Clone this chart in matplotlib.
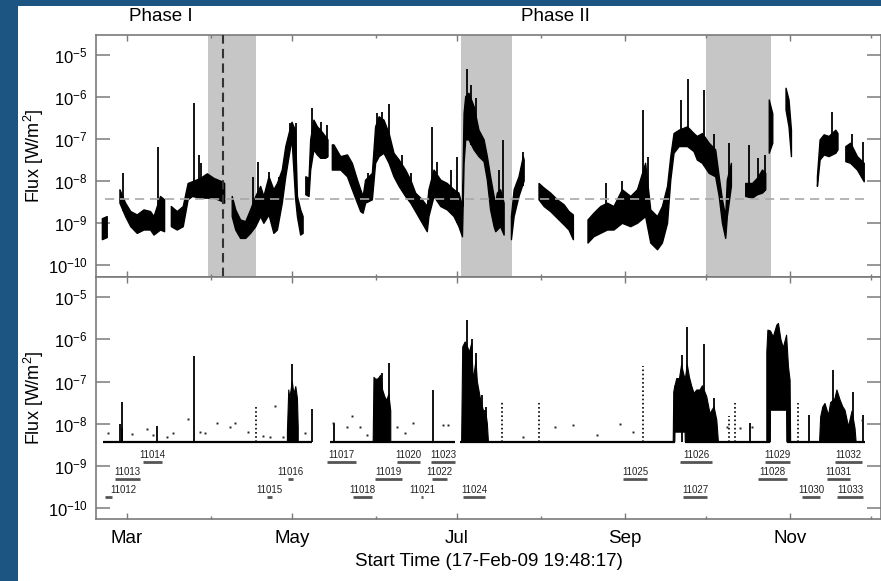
import numpy as np
import matplotlib
matplotlib.use('Agg')
import matplotlib.pyplot as plt
import matplotlib.transforms as mtransforms
from matplotlib.patches import Rectangle
from matplotlib.ticker import FixedLocator, NullLocator, LogFormatterMathtext

plt.rcParams['font.family'] = ['Liberation Sans', 'DejaVu Sans']
plt.rcParams['mathtext.fontset'] = 'custom'
plt.rcParams['mathtext.rm'] = 'Liberation Sans'
plt.rcParams['mathtext.it'] = 'Liberation Sans:italic'
plt.rcParams['mathtext.bf'] = 'Liberation Sans:bold'

# Times are day-of-year 2009 (Mar 1 = 60), fluxes are log10 of W/m^2.
# None marks a data gap.

# ---- top panel: envelope of the full light curve
top_day = [50.9, 52.7, None,
           57.4, 59.5, 61.4, 63.8, 66.3, 68.7, 70.0, 72.4, 73.9, None,
           76.4, 78.6, 80.8, 82.6, 84.2, 87.2, 89.7, 92.2, 95.2, 96.1, None,
           98.9, 100.2, 102.0, 103.9, 105.7, 107.6, 109.4, 110.6, 112.5, 114.3,
           115.6, 117.4, 118.7, 119.9, 121.0, 122.3, 123.0, 124.2, 125.1, None,
           126.1, 127.3, 127.9, 129.1, 130.4, 131.6, 133.4, 134.3, None,
           135.9, 136.5, 139.0, 141.5, 143.3, 145.2, 146.4, 147.3, 148.2, 150.7,
           151.9, 153.2, 155.0, 156.9, 158.7, 160.6, 163.0, 164.9, 166.7, 169.2,
           171.0, 171.6, 173.5, 176.0, 178.4, 180.9, 182.7, 184.0, 184.6, 185.2,
           186.4, 188.3, 190.1, 192.0, 193.2, 194.4, 195.7, 196.3, 196.9, 198.1,
           199.4, None,
           202.1, 203.1, 204.9, 206.5, 206.8, None,
           212.3, 214.2, 216.6, 219.1, 221.6, 223.4, 225.0, None,
           230.4, 232.6, 235.1, 237.6, 240.0, 243.1, 246.2, 248.7, 251.7, 253.6,
           256.1, 257.9, 259.8, 261.0, 262.2, 264.1, 267.2, 269.6, 270.8, 272.7,
           275.2, 277.6, 278.9, 280.1, 281.3, 281.9, 283.4, None,
           288.7, 291.2, 293.0, 294.9, 296.1, None,
           297.4, 298.7, None,
           303.6, 304.7, 305.6, None,
           315.2, 316.2, 317.7, 319.5, 322.0, 322.8, None,
           325.7, 327.5, 330.0, 332.5]
top_lo = [-9.40, -9.35, None,
          -8.53, -8.85, -9.09, -9.25, -9.17, -9.17, -9.29, -9.17, -9.21, None,
          -9.09, -9.17, -9.09, -8.45, -8.37, -8.41, -8.41, -8.41, -8.49, -8.53, None,
          -8.85, -9.17, -9.37, -9.37, -9.25, -9.09, -8.85, -9.01, -8.81, -9.25,
          -9.17, -8.53, -7.90, -7.42, -7.00, -8.40, -8.85, -9.29, -9.25, None,
          -8.33, -8.37, -7.74, -7.26, -7.38, -7.46, -7.46, -7.42, None,
          -7.74, -7.74, -7.74, -7.90, -8.21, -8.53, -8.73, -8.77, -8.53, -8.45,
          -7.58, -7.42, -7.34, -7.58, -7.90, -8.13, -8.37, -8.53, -8.73, -9.01,
          -9.21, -8.85, -8.37, -8.61, -8.69, -8.85, -9.09, -9.33, -7.58, -7.02,
          -7.02, -7.26, -7.42, -7.54, -7.98, -8.69, -9.09, -9.21, -9.17, -9.09,
          -9.29, None,
          -9.40, -8.85, -8.37, -8.06, -8.00, None,
          -8.45, -8.61, -8.73, -8.89, -9.05, -9.17, -9.40, None,
          -9.48, -9.33, -9.25, -9.17, -9.17, -9.01, -9.09, -9.01, -8.85, -9.48,
          -9.64, -9.48, -9.01, -7.98, -7.34, -7.18, -7.18, -7.30, -7.50, -7.58,
          -7.82, -7.90, -8.37, -9.01, -9.37, -8.85, -8.13, None,
          -8.37, -8.41, -8.33, -8.29, -8.21, None,
          -7.34, -7.10, None,
          -6.31, -6.71, -7.42, None,
          -8.13, -7.50, -7.38, -7.42, -7.34, -7.26, None,
          -7.54, -7.58, -7.74, -8.02]
top_hi = [-8.90, -8.85, None,
          -8.21, -8.53, -8.73, -8.81, -8.69, -8.73, -8.85, -8.37, -8.45, None,
          -8.61, -8.73, -8.61, -8.06, -8.02, -7.94, -7.83, -7.94, -8.02, -8.06, None,
          -8.37, -8.69, -8.93, -8.97, -8.69, -8.37, -8.13, -8.37, -7.90, -8.21,
          -8.06, -7.74, -7.18, -6.87, -6.60, -6.80, -8.37, -8.69, -8.85, None,
          -7.90, -7.94, -7.02, -6.55, -6.71, -6.79, -6.94, -7.02, None,
          -7.14, -7.14, -7.42, -7.38, -7.58, -7.98, -8.21, -8.37, -7.98, -7.82,
          -6.71, -6.47, -6.55, -6.87, -7.34, -7.50, -7.74, -7.98, -8.29, -8.45,
          -8.61, -8.21, -7.74, -7.98, -8.06, -8.21, -8.29, -8.61, -6.39, -5.99,
          -5.91, -6.23, -6.79, -7.02, -7.42, -7.90, -8.37, -8.53, -8.29, -8.21,
          -8.53, None,
          -8.85, -8.21, -7.90, -7.42, -7.50, None,
          -8.06, -8.17, -8.29, -8.45, -8.57, -8.73, -8.81, None,
          -8.93, -8.77, -8.61, -8.53, -8.61, -8.21, -8.37, -8.21, -7.58, -8.69,
          -8.85, -8.61, -8.13, -7.42, -6.87, -6.79, -6.71, -6.87, -6.94, -6.87,
          -7.10, -7.26, -7.90, -8.45, -8.85, -7.98, -7.58, None,
          -8.06, -8.06, -7.94, -7.74, -7.82, None,
          -6.07, -6.40, None,
          -5.79, -6.07, -6.79, None,
          -7.90, -7.02, -6.90, -6.94, -6.79, -6.87, None,
          -7.18, -7.10, -7.42, -7.58]

top_spike_day = [58.6, 71.5, 84.8, 86.6, 87.5, 106.7, 108.4, 112.5, 116.3, 120.3,
                 122.3, 128.5, 131.6, 133.8, 149.1, 152.5, 154.4, 156.9, 161.8, 164.9,
                 172.9, 174.7, 179.7, 182.1, 185.8, 187.3, 188.9, 197.5, 198.8, 206.2,
                 237.0, 243.1, 250.8, 252.4, 264.9, 267.4, 273.3, 277.0, 282.6, 290.0,
                 293.3, 295.7, 320.7, 328.1, 331.9]
top_spike_peak = [-7.82, -7.18, -6.15, -7.38, -7.58, -7.90, -7.54, -7.78, -7.90, -6.63,
                  -6.63, -6.27, -6.59, -6.67, -7.82, -6.39, -6.35, -6.17, -7.38, -7.82,
                  -6.71, -7.54, -7.74, -7.42, -5.32, -5.71, -6.03, -7.74, -7.02, -7.30,
                  -8.06, -8.00, -6.31, -7.42, -6.07, -5.56, -5.83, -6.87, -7.10, -7.14,
                  -7.46, -7.38, -6.35, -6.87, -7.06]

top_threshold = -8.43
top_threshold_span = [52.0, 332.5]
shade_start = [89.9, 183.4, 273.9]
shade_end = [107.7, 202.3, 298.2]
dashed_day = 95.6

# ---- bottom panel
base_level = -8.43
base_start = [51.2, 135.0, 183.1, 266.3, 303.9]
base_end = [128.5, 181.4, 262.5, 297.8, 332.8]

cl_day = [119.3, 119.8, 120.2, 121.1, 121.7, 122.4, 123.0, 123.3, None,
          151.0, 151.3, 152.0, 152.9, 153.8, 154.5, 155.3, 156.0, 156.8, 157.5, None,
          183.7, 184.1, 185.0, 186.0, 186.6, 187.4, 188.0, 189.0, 189.5, 190.5,
          191.7, 192.6, 193.2, 193.6, None,
          261.9, 262.1, 262.5, 262.55, 263.2, 264.2, 265.0, 265.7, 266.3, 266.35,
          267.1, 267.9, 268.7, 269.6, 270.6, 271.8, 272.7, 274.3, 275.5, 277.0,
          278.0, 278.6, None,
          296.5, 296.9, 297.8, 297.85, 298.9, 300.2, 300.8, 301.7, 302.6, 303.8,
          303.9, 304.5, 305.1, 305.3, None,
          316.0, 316.4, 317.2, 318.0, 319.3, 320.1, 321.7, 322.4, 323.6, 324.6,
          325.4, 326.7, 328.0, 329.1, 329.5]
cl_lo = [-8.43, -8.43, -8.43, -8.43, -8.43, -8.43, -8.43, -8.43, None,
         -8.43, -8.43, -8.43, -8.43, -8.43, -8.43, -8.43, -8.43, -8.43, -8.43, None,
         -8.43, -8.43, -8.43, -8.43, -8.43, -8.43, -8.43, -8.43, -8.43, -8.43,
         -8.43, -8.43, -8.43, -8.43, None,
         -8.43, -8.43, -8.43, -8.20, -8.20, -8.20, -8.20, -8.20, -8.20, -8.43,
         -8.43, -8.43, -8.43, -8.43, -8.43, -8.43, -8.43, -8.43, -8.43, -8.43,
         -8.43, -8.43, None,
         -8.43, -8.43, -8.43, -7.68, -7.68, -7.68, -7.68, -7.68, -7.68, -7.68,
         -8.43, -8.43, -8.43, -8.43, None,
         -8.43, -8.43, -8.43, -8.43, -8.43, -8.43, -8.43, -8.43, -8.43, -8.43,
         -8.43, -8.43, -8.43, -8.43, -8.43]
cl_hi = [-8.20, -7.20, -7.40, -7.00, -7.30, -7.12, -7.40, -8.10, None,
         -8.43, -6.90, -6.95, -6.93, -6.85, -7.20, -7.36, -7.45, -7.30, -7.70, None,
         -8.43, -6.18, -6.06, -6.20, -6.30, -6.10, -6.97, -6.50, -7.00, -7.36,
         -7.68, -7.70, -8.00, -8.43, None,
         -8.43, -7.25, -7.10, -7.10, -6.93, -6.93, -6.60, -6.80, -6.95, -6.95,
         -6.60, -6.90, -7.10, -7.28, -7.20, -7.20, -7.10, -7.36, -7.76, -7.60,
         -7.91, -8.43, None,
         -6.30, -5.78, -5.80, -5.80, -5.94, -5.66, -5.62, -6.00, -6.20, -5.90,
         -6.00, -6.65, -6.97, -8.43, None,
         -8.43, -7.84, -7.60, -7.52, -7.80, -7.50, -7.40, -7.20, -7.44, -7.60,
         -7.68, -8.07, -7.70, -8.11, -8.43]

bot_spike_day = [57.6, 58.0, 58.3, 71.2, 84.9, 121.1, 128.4, 136.6, 154.1, 157.0,
                 173.0, 185.8, 187.4, 189.0, 191.1, 192.6, 265.0, 267.1, 273.4, 277.0,
                 290.3, 312.2, 320.9, 328.3, 332.2]
bot_spike_peak = [-8.00, -7.48, -8.10, -8.05, -6.40, -6.59, -7.64, -7.99, -6.79, -6.55,
                  -7.20, -5.53, -5.98, -6.33, -7.32, -7.60, -6.37, -5.70, -6.12, -7.40,
                  -7.99, -7.80, -6.73, -7.24, -7.80]
dotcol_day = [107.7, 198.5, 212.4, 250.9, 282.7, 284.8, 308.2]
dotcol_peak = [-7.60, -7.48, -7.50, -6.64, -7.82, -7.52, -7.52]

dot_day = [53.1, 61.7, 67.3, 69.7, 74.7, 77.1, 82.7, 87.0, 88.8, 93.1, 98.1, 99.9,
           104.9, 110.4, 112.9, 114.7, 117.8, 125.8, 136.3, 141.2, 143.1, 146.1,
           148.6, 159.7, 162.8, 165.9, 176.9, 178.8, 206.5, 218.2, 225.0, 233.6,
           242.3, 247.2, 281.7, 286.6, 290.9, 331.6]
dot_val = [-8.23, -8.25, -8.13, -8.27, -8.31, -8.23, -7.88, -8.19, -8.23, -7.99, -8.07, -7.99,
           -8.19, -8.29, -8.31, -7.58, -8.31, -8.23, -7.99, -8.07, -7.82, -8.07,
           -8.27, -8.07, -8.23, -7.99, -8.03, -8.03, -8.31, -8.07, -8.03, -8.27,
           -8.01, -8.19, -8.07, -8.11, -8.07, -7.91]

ar_num = ['11012', '11013', '11014', '11015', '11016', '11017', '11018', '11019',
          '11020', '11021', '11022', '11023', '11024', '11025', '11026', '11027',
          '11028', '11029', '11030', '11031', '11032', '11033']
ar_start = [51.9, 55.6, 65.9, 111.8, 119.5, 133.9, 143.5, 151.7, 159.8, 168.7, 172.8,
            172.3, 184.2, 243.4, 264.4, 265.5, 293.3, 295.9, 309.6, 318.8, 321.7, 322.5]
ar_end = [54.5, 64.8, 72.9, 113.6, 121.4, 144.6, 150.6, 161.7, 168.3, 169.4, 178.3,
          181.3, 192.3, 252.2, 276.3, 274.4, 304.0, 305.1, 316.2, 327.3, 331.7, 332.1]
ar_row = [3, 2, 1, 3, 2, 1, 3, 2, 1, 3, 2, 1, 3, 2, 1, 3, 2, 1, 3, 2, 1, 3]

months = [60, 121, 182, 244, 305]
month_labels = ['Mar', 'May', 'Jul', 'Sep', 'Nov']
minor_months = [91, 152, 213, 274, 335]
decades = [1e-10, 1e-9, 1e-8, 1e-7, 1e-6, 1e-5]


def arr(v):
    return np.array(v, dtype=float)


frame = '#7a7a7a'
fig = plt.figure(figsize=(8.81, 5.81), dpi=100)
fig.patch.set_facecolor('#1c5482')
fig.add_artist(Rectangle((18 / 881, 0), 1, 575 / 581, transform=fig.transFigure,
                         facecolor='white', edgecolor='none', zorder=-5))

ax1 = fig.add_axes([96 / 881, 304 / 581, 785 / 881, 242 / 581])
ax2 = fig.add_axes([96 / 881, 62 / 581, 785 / 881, 242 / 581])

for ax in (ax1, ax2):
    ax.set_yscale('log')
    ax.set_xlim(48.55, 338.7)
    ax.xaxis.set_major_locator(FixedLocator(months))
    ax.xaxis.set_minor_locator(FixedLocator(minor_months))
    ax.yaxis.set_major_locator(FixedLocator(decades))
    ax.yaxis.set_minor_locator(NullLocator())
    ax.yaxis.set_major_formatter(LogFormatterMathtext())
    ax.tick_params(axis='x', which='major', direction='in', length=4, width=1,
                   top=True, bottom=True, color=frame)
    ax.tick_params(axis='x', which='minor', direction='in', length=2.2, width=1,
                   top=True, bottom=True, color=frame)
    ax.tick_params(axis='y', which='major', direction='in', length=10, width=1.1,
                   left=True, right=True, color=frame, labelsize=12, pad=6)
    for sp in ax.spines.values():
        sp.set_color(frame)
        sp.set_linewidth(1.2)
    ax.set_ylabel('Flux [W/m$^2$]', fontsize=13)
    ax.yaxis.set_label_coords(-0.064, 0.5)

ax1.set_ylim(10 ** -10.29, 10 ** -4.52)
ax2.set_ylim(10 ** -10.26, 10 ** -4.52)
ax1.tick_params(axis='x', labelbottom=False)
ax2.set_xticklabels(month_labels)
ax2.tick_params(axis='x', which='major', labelsize=13.5, pad=8)
ax2.set_xlabel('Start Time (17-Feb-09 19:48:17)', fontsize=13.5, labelpad=4)

# ---- top panel
for s, e in zip(shade_start, shade_end):
    ax1.axvspan(s, e, color='#c6c6c6', lw=0, zorder=0)

td, tlo, thi = arr(top_day), arr(top_lo), arr(top_hi)
ax1.fill_between(td, 10 ** tlo, 10 ** thi, color='black', lw=1.0, zorder=2)
ok = ~np.isnan(td)
sp_base = np.interp(top_spike_day, td[ok], tlo[ok])
ax1.vlines(top_spike_day, 10 ** sp_base, 10 ** arr(top_spike_peak),
           color='black', lw=1.3, zorder=2)

ax1.plot(top_threshold_span, [10 ** top_threshold] * 2, color='#a8a8a8', lw=1.2,
         linestyle=(0, (5.5, 3.5)), zorder=3)
ax1.axvline(dashed_day, color='#333333', lw=1.5, linestyle=(0, (4.5, 2.5)), zorder=3)

trans = mtransforms.blended_transform_factory(ax1.transData, ax1.transAxes)
ax1.text(72.6, 1.075, 'Phase I', transform=trans, ha='center', va='center', fontsize=13.5)
ax1.text(218.2, 1.075, 'Phase II', transform=trans, ha='center', va='center', fontsize=13.5)

# ---- bottom panel
ax2.hlines([10 ** base_level] * len(base_start), base_start, base_end,
           color='black', lw=1.6, zorder=3)
ax2.fill_between(arr(cl_day), 10 ** arr(cl_lo), 10 ** arr(cl_hi), color='black',
                 lw=0.8, zorder=2)
ax2.vlines(bot_spike_day, 10 ** base_level, 10 ** arr(bot_spike_peak),
           color='black', lw=1.3, zorder=2)
ax2.vlines(dotcol_day, 10 ** base_level, 10 ** arr(dotcol_peak),
           color='black', lw=1.2, linestyle=(0, (1, 1.5)), zorder=2)
ax2.plot(dot_day, 10 ** arr(dot_val), 's', ms=1.4, mew=0, color='#222222', zorder=2)

row_line = {1: -8.91, 2: -9.31, 3: -9.74}
row_text = {1: -8.74, 2: -9.15, 3: -9.57}
for num, s, e, r in zip(ar_num, ar_start, ar_end, ar_row):
    ax2.plot([s, e], [10 ** row_line[r]] * 2, color='#555555', lw=2.0,
             solid_capstyle='butt', zorder=3)
    ax2.text(max((s + e) / 2, 58.7), 10 ** row_text[r], num, ha='center', va='center',
             fontsize=7, color='#222222')

fig.savefig('out.png', dpi=100, facecolor=fig.get_facecolor())
